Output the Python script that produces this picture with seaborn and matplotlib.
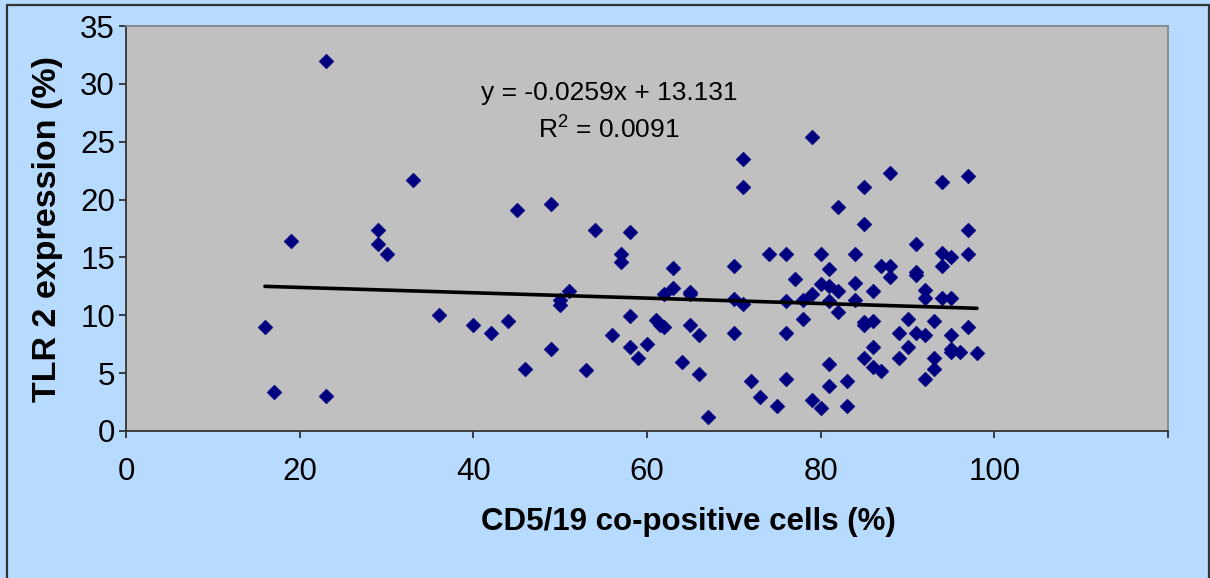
import matplotlib
matplotlib.use("Agg")
import matplotlib.pyplot as plt
import seaborn as sns
import pandas as pd
from matplotlib.lines import Line2D

# CD5/19 co-positive cells (%)
cd519 = [16, 17, 19, 23, 23, 29, 29, 30, 33, 36, 40, 42, 44, 45, 46, 49, 49, 50, 50, 51,
         53, 54, 56, 57, 57, 58, 58, 58, 59, 60, 61, 61.5, 62, 62, 63, 63, 64, 65, 65, 65,
         66, 66, 67, 70, 70, 70, 71, 71, 71, 72, 73, 74, 75, 76, 76, 76, 76, 77, 78, 78,
         79, 79, 79, 80, 80, 80, 81, 81, 81, 81, 81, 82, 82, 82, 83, 83, 84, 84, 84, 85,
         85, 85, 85, 85, 86, 86, 86, 86, 87, 87, 88, 88, 88, 89, 89, 90, 90, 91, 91, 91,
         91, 92, 92, 92, 92, 93, 93, 93, 94, 94, 94, 94, 95, 95, 95, 95, 95, 96, 97, 97,
         97, 97, 98]
# TLR 2 expression (%)
tlr2 = [9.0, 3.4, 16.4, 32.0, 3.0, 17.4, 16.2, 15.3, 21.7, 10.0, 9.2, 8.5, 9.5, 19.1, 5.4, 19.6, 7.1, 11.3, 10.9, 12.1,
        5.3, 17.4, 8.3, 15.3, 14.6, 17.2, 9.9, 7.3, 6.3, 7.5, 9.6, 9.2, 9.0, 11.8, 14.1, 12.4, 6.0, 12.0, 11.8, 9.2,
        8.3, 4.9, 1.2, 14.3, 11.4, 8.5, 23.5, 21.1, 11.0, 4.3, 2.9, 15.3, 2.2, 15.3, 11.2, 8.5, 4.5, 13.1, 11.3, 9.7,
        25.4, 11.8, 2.7, 15.3, 12.7, 2.0, 14.0, 12.5, 11.2, 5.8, 3.9, 19.4, 12.1, 10.3, 4.3, 2.2, 15.3, 12.8, 11.3, 21.1,
        17.9, 9.4, 9.2, 6.3, 12.1, 9.5, 7.3, 5.5, 14.3, 5.2, 22.3, 14.3, 13.3, 8.5, 6.3, 9.7, 7.3, 16.2, 13.7, 13.5,
        8.5, 12.2, 11.5, 8.3, 4.5, 9.5, 6.3, 5.4, 21.5, 15.4, 14.3, 11.5, 15.0, 11.5, 8.3, 7.1, 6.8, 6.8, 22.0, 17.4,
        15.3, 9.0, 6.7]

x_ticks = [0, 20, 40, 60, 80, 100, 120]
x_tick_labels = ["0", "20", "40", "60", "80", "100", ""]
y_ticks = [0, 5, 10, 15, 20, 25, 30, 35]
equation_text = "y = -0.0259x + 13.131"
r2_text = "R$^{2}$ = 0.0091"

sns.set_style("ticks")
plt.rcParams['font.family'] = ['Liberation Sans', 'DejaVu Sans']
plt.rcParams['mathtext.fontset'] = 'custom'
plt.rcParams['mathtext.rm'] = 'Liberation Sans'
plt.rcParams['mathtext.it'] = 'Liberation Sans'

W, H = 1210, 578
fig = plt.figure(figsize=(W / 100, H / 100), dpi=100, facecolor='#B7DAFF')
ax = fig.add_axes([126 / W, 1 - 431 / H, 1042 / W, 405 / H])
ax.set_facecolor('#C0C0C0')

df = pd.DataFrame({'cd519': cd519, 'tlr2': tlr2})
sns.scatterplot(data=df, x='cd519', y='tlr2', marker='D', s=58, color='#000080',
                edgecolor='#000080', linewidth=0.3, ax=ax, zorder=3, legend=False)
sns.regplot(data=df, x='cd519', y='tlr2', scatter=False, ci=None, color='black',
            line_kws={'linewidth': 2.6, 'zorder': 4}, ax=ax)

ax.set_xlim(0, 120)
ax.set_ylim(0, 35)
ax.set_xticks(x_ticks)
ax.set_xticklabels(x_tick_labels)
ax.set_yticks(y_ticks)
ax.tick_params(axis='both', labelsize=22.5, colors='#222222', length=5, width=1.2, direction='out')
ax.tick_params(axis='x', pad=14)
ax.tick_params(axis='y', pad=3)
for lab in ax.get_xticklabels() + ax.get_yticklabels():
    lab.set_color('black')

for s in ['top', 'right']:
    ax.spines[s].set_color('#808080')
    ax.spines[s].set_linewidth(1.2)
for s in ['left', 'bottom']:
    ax.spines[s].set_color('#333333')
    ax.spines[s].set_linewidth(1.3)

ax.set_xlabel('CD5/19 co-positive cells (%)', fontsize=22.5, fontweight='bold', color='black')
ax.set_ylabel('TLR 2 expression (%)', fontsize=24.5, fontweight='bold', color='black')
ax.xaxis.label.set_va('center')
ax.yaxis.label.set_va('center')
ax.xaxis.set_label_coords(0.54, -0.2247)
ax.yaxis.set_label_coords(-0.0758, 0.5)

ax.text(55.6, 29.2, equation_text, ha='center', va='center', fontsize=19, color='black')
ax.text(55.6, 26.0, r2_text, ha='center', va='center', fontsize=19, color='black')

# outer chart border
bc = '#333333'
fig.add_artist(Line2D([7 / W, 7 / W], [0, 1 - 5 / H], transform=fig.transFigure, color=bc, linewidth=1.6))
fig.add_artist(Line2D([7 / W, 1209 / W], [1 - 5 / H, 1 - 5 / H], transform=fig.transFigure, color=bc, linewidth=1.6))
fig.add_artist(Line2D([1209 / W, 1209 / W], [0, 1 - 5 / H], transform=fig.transFigure, color=bc, linewidth=1.6))

fig.savefig('out.png', dpi=100, facecolor=fig.get_facecolor())
